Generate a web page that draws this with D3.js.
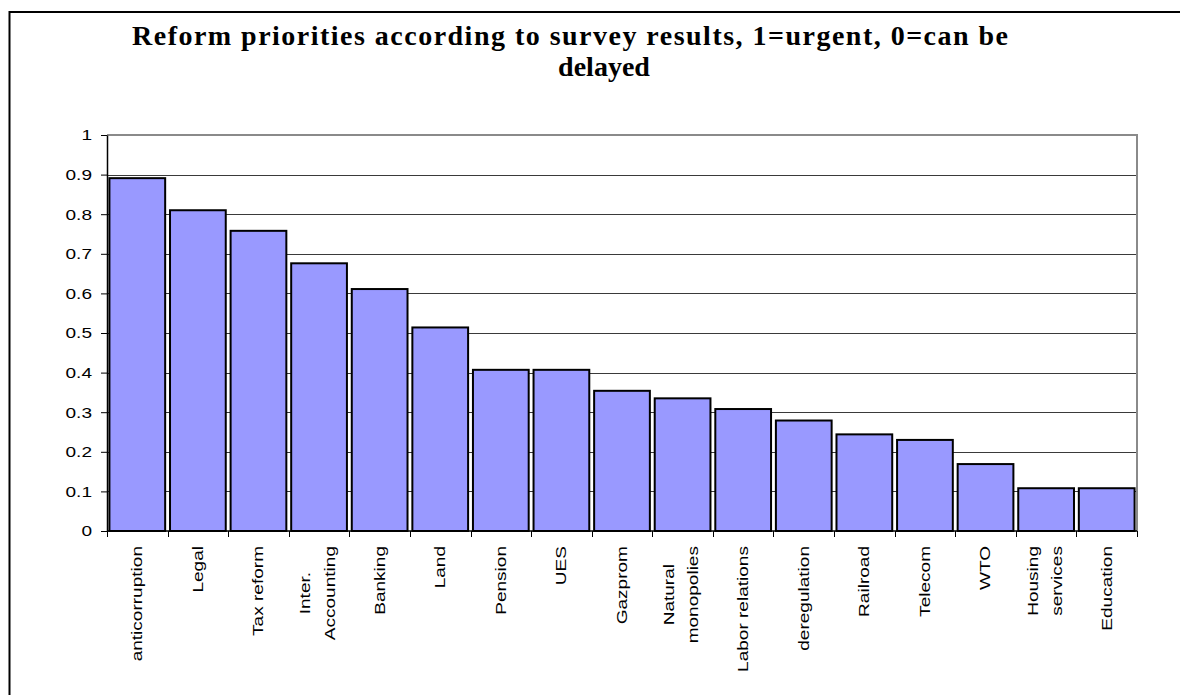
<!DOCTYPE html>
<html>
<head>
<meta charset="utf-8">
<script src="https://cdn.jsdelivr.net/npm/d3@7"></script>
<style>
  html, body { margin: 0; padding: 0; background: #fff; }
  svg { display: block; }
</style>
</head>
<body>
<svg id="chart" width="1180" height="695"></svg>
<script>
// Survey categories, in order of urgency
const categories = [
  "anticorruption", "Legal", "Tax reform", "Inter.\nAccounting", "Banking",
  "Land", "Pension", "UES", "Gazprom", "Natural\nmonopolies",
  "Labor relations", "deregulation", "Railroad", "Telecom", "WTO",
  "Housing\nservices", "Education"
];
// Average priority score per reform (1 = urgent, 0 = can be delayed)
const values = [
  0.891, 0.810, 0.758, 0.676, 0.611,
  0.514, 0.407, 0.407, 0.354, 0.335,
  0.308, 0.279, 0.244, 0.230, 0.169,
  0.108, 0.108
];
const yTickValues = [0, 0.1, 0.2, 0.3, 0.4, 0.5, 0.6, 0.7, 0.8, 0.9, 1];
const yTickLabels = ["0", "0.1", "0.2", "0.3", "0.4", "0.5", "0.6", "0.7", "0.8", "0.9", "1"];
const titleLines = ["Reform priorities according to survey results, 1=urgent, 0=can be", "delayed"];

const svg = d3.select("#chart");
const plot = { left: 107, right: 1137, top: 135, bottom: 531 };
const sansFont = "Arial, 'Liberation Sans', sans-serif";
const textStretch = 1.36;

// Outer chart frame
svg.append("path")
  .attr("d", "M9.5,700 V12 H1185")
  .attr("fill", "none")
  .attr("stroke", "#000")
  .attr("stroke-width", 2);

// Title (first line spread to its full width)
const titleX = [570, 604];
const titleY = [45, 76];
const titleLength = [876, null];
svg.append("g").selectAll("text")
  .data(titleLines)
  .join("text")
  .attr("x", (d, i) => titleX[i])
  .attr("y", (d, i) => titleY[i])
  .attr("text-anchor", "middle")
  .attr("font-family", "'Times New Roman', 'Liberation Serif', serif")
  .attr("font-weight", "bold")
  .attr("font-size", 28)
  .attr("fill", "#000")
  .each(function (d, i) {
    if (titleLength[i]) {
      d3.select(this).attr("textLength", titleLength[i]).attr("lengthAdjust", "spacing");
    }
  })
  .text(d => d);

const x = d3.scaleBand()
  .domain(categories)
  .range([plot.left, plot.right])
  .paddingInner(0.08)
  .paddingOuter(0.04);

const y = d3.scaleLinear()
  .domain([0, 1])
  .range([plot.bottom, plot.top]);

// Horizontal gridlines
svg.append("g").selectAll("line")
  .data(yTickValues.filter(v => v > 0 && v < 1))
  .join("line")
  .attr("x1", plot.left)
  .attr("x2", plot.right)
  .attr("y1", d => Math.round(y(d)) + 0.5)
  .attr("y2", d => Math.round(y(d)) + 0.5)
  .attr("stroke", "#3a3a3a")
  .attr("stroke-width", 1);

// Plot-area border (top and right)
svg.append("path")
  .attr("d", `M${plot.left},${y(1)} H${plot.right} V${plot.bottom}`)
  .attr("fill", "none")
  .attr("stroke", "#8a8a8a")
  .attr("stroke-width", 2);

// Bars
svg.append("g").selectAll("rect")
  .data(values)
  .join("rect")
  .attr("x", (d, i) => x(categories[i]))
  .attr("y", d => y(d))
  .attr("width", x.bandwidth())
  .attr("height", d => y(0) - y(d))
  .attr("fill", "#9999ff")
  .attr("stroke", "#000")
  .attr("stroke-width", 2);

// Y axis
const yAxis = svg.append("g")
  .attr("transform", `translate(${plot.left},0)`)
  .call(d3.axisLeft(y)
    .tickValues(yTickValues)
    .tickFormat((d, i) => yTickLabels[i])
    .tickSize(6)
    .tickSizeOuter(0));
yAxis.select(".domain").attr("stroke", "#000").attr("stroke-width", 1.5);
yAxis.selectAll(".tick line").attr("stroke", "#000");
yAxis.selectAll(".tick text")
  .attr("x", null)
  .attr("dy", "0.35em")
  .attr("transform", `translate(-15,0) scale(${textStretch},1)`)
  .attr("font-family", sansFont)
  .attr("font-size", 14)
  .attr("fill", "#000");

// X axis baseline and category-boundary ticks
svg.append("line")
  .attr("x1", plot.left).attr("x2", plot.right)
  .attr("y1", y(0)).attr("y2", y(0))
  .attr("stroke", "#000").attr("stroke-width", 1.5);
const boundaries = d3.range(categories.length + 1).map(i => plot.left + i * x.step());
svg.append("g").selectAll("line")
  .data(boundaries)
  .join("line")
  .attr("x1", d => Math.round(d) + 0.5).attr("x2", d => Math.round(d) + 0.5)
  .attr("y1", y(0)).attr("y2", y(0) + 6)
  .attr("stroke", "#000").attr("stroke-width", 1);

// Rotated category labels; wrapped labels have their lines centred on each other
const labelTop = 546;
const lineOffsets = { 1: [0], 2: [-13.5, 11] };
const labelGroups = svg.append("g").selectAll("g")
  .data(categories)
  .join("g");

labelGroups.each(function (name) {
  const g = d3.select(this);
  const lines = name.split("\n");
  const cx = x(name) + x.bandwidth() / 2;
  const texts = lines.map((line, j) => g.append("text")
    .attr("font-family", sansFont)
    .attr("font-size", 14)
    .attr("fill", "#000")
    .attr("text-anchor", "middle")
    .attr("dy", "0.35em")
    .text(line));
  const maxLen = d3.max(texts, t => t.node().getComputedTextLength()) * textStretch;
  const cy = labelTop + maxLen / 2;
  texts.forEach((t, j) => {
    const lx = cx + lineOffsets[lines.length][j];
    t.attr("transform", `translate(${lx},${cy}) rotate(-90) scale(${textStretch},1)`);
  });
});
</script>
</body>
</html>
